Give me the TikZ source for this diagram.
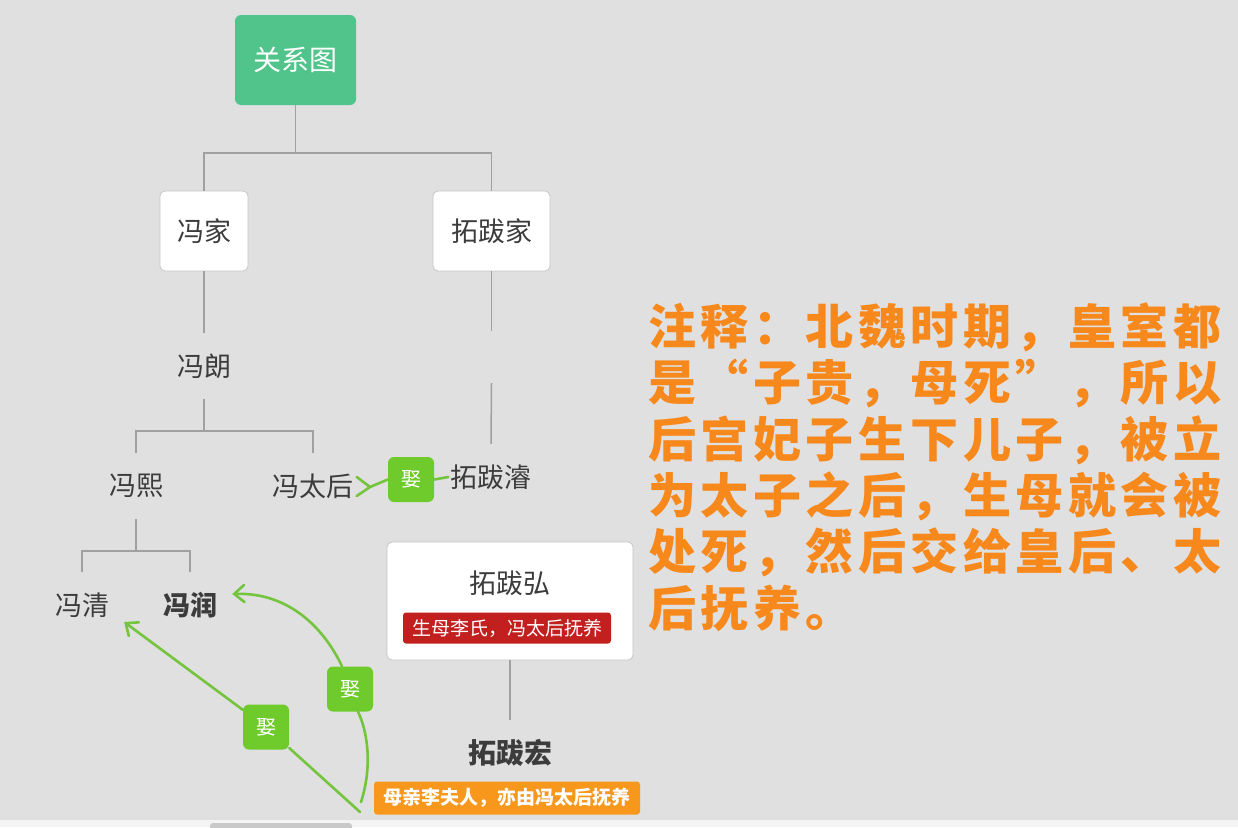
\documentclass[tikz,border=0pt]{standalone}
\usepackage{fontspec}
\setmainfont{Noto Sans CJK SC}
\usetikzlibrary{arrows.meta,calc}
\definecolor{bg}{HTML}{E0E0E0}
\definecolor{bottomstrip}{HTML}{F4F4F4}
\definecolor{scrollgray}{HTML}{C9C9C9}
\definecolor{rootgreen}{HTML}{50C48A}
\definecolor{treegray}{HTML}{A0A0A0}
\definecolor{boxborder}{HTML}{C6C6C6}
\definecolor{txt}{HTML}{3C3C3C}
\definecolor{relgreen}{HTML}{74C43E}
\definecolor{lbl}{HTML}{6FCB2B}
\definecolor{redlbl}{HTML}{C21F1F}
\definecolor{orangelbl}{HTML}{F7981D}
\definecolor{noteorange}{HTML}{F7881C}
\newlength\cellw
\setlength\cellw{52.5pt}
\newcommand\spreadtxt[1]{\spreadloop#1\relax}
\def\spreadloop#1{\ifx\relax#1\else\makebox[\cellw]{#1}\expandafter\spreadloop\fi}
\begin{document}
\begin{tikzpicture}[x=1pt,y=-1pt,
  tree/.style={draw=treegray,line width=1.5pt},
  rel/.style={draw=relgreen,line width=2.6pt,line cap=round},
  relarrow/.style={rel,-{Straight Barb[length=10pt,width=17pt,line cap=round]}},
  topicbox/.style={draw=boxborder,line width=0.8pt,fill=white,rounded corners=5pt,text=txt,font=\fontsize{27}{32}\selectfont,inner sep=0pt},
  plain/.style={text=txt,font=\fontsize{27}{32}\selectfont,minimum height=66pt,inner sep=2pt},
  marry/.style={fill=lbl,rounded corners=6pt,text=white,font=\fontsize{20}{24}\selectfont,minimum width=46pt,minimum height=45pt,inner sep=0pt},
  tag/.style={rounded corners=3pt,text=white,font=\fontsize{19}{22}\selectfont,inner sep=0pt},
  notel/.style={anchor=west,inner sep=0pt,text=noteorange,font=\fontsize{48}{56}\selectfont\bfseries}]
\useasboundingbox (0,0) rectangle (1238,827);
\fill[bg] (0,0) rectangle (1238,820);
\fill[bottomstrip] (0,820) rectangle (1238,827);
\fill[scrollgray,rounded corners=3pt] (210,823) rectangle (352,830);

% tree nodes
\node[fill=rootgreen,rounded corners=6pt,text=white,font=\fontsize{28}{32}\selectfont,minimum width=121pt,minimum height=90pt,inner sep=0pt] (root) at (295.5,60) {关系图};
\node[topicbox,minimum width=88pt,minimum height=80pt] (fengjia) at (204,231) {冯家};
\node[topicbox,minimum width=117pt,minimum height=80pt] (tuobajia) at (491.5,231) {拓跋家};
\node[plain] (langa) at (204,366) {冯朗};
\node[plain] (xi) at (136,486) {冯熙};
\node[plain] (taihou) at (313,486) {冯太后};
\node[plain] (qing) at (82,605) {冯清};
\node[plain,font=\fontsize{27}{32}\selectfont\bfseries] (run) at (190,605) {冯润};
\node[plain] (zhun) at (491,477) {拓跋濬};
\node[topicbox,minimum width=246pt,minimum height=118pt] (hongbox) at (510,601) {};
\node[text=txt,font=\fontsize{27}{32}\selectfont,inner sep=0pt] (hongtitle) at (510,583) {拓跋弘};
\node[tag,fill=redlbl,minimum width=208pt,minimum height=31pt] (redtag) at (507,628) {生母李氏，冯太后抚养};
\node[plain,font=\fontsize{28}{32}\selectfont\bfseries] (hong2) at (510,753) {拓跋宏};
\node[tag,fill=orangelbl,minimum width=266pt,minimum height=33pt,font=\fontsize{19}{22}\selectfont\bfseries] (orangetag) at (507,798) {母亲李夫人，亦由冯太后抚养};

% tree connectors
\coordinate (j1) at (295.5,153);
\draw[tree] (root.south) -- (j1) -| (fengjia.north);
\draw[tree] (j1) -| (tuobajia.north);
\draw[tree] (fengjia.south) -- (langa.north);
\coordinate (j2) at (204,431);
\draw[tree] (langa.south) -- (j2) -| (xi.north);
\draw[tree] (j2) -| (taihou.north);
\coordinate (j3) at (136,551);
\draw[tree] (xi.south) -- (j3) -| (qing.north);
\draw[tree] (j3) -| (run.north);
\coordinate (g1) at (491.5,331);
\coordinate (g2) at (491.5,383);
\draw[tree] (tuobajia.south) -- (g1);
\draw[tree] (g2) -- (zhun.north);
\draw[tree] (hongbox.south) -- (hong2.north);

% marriage labels
\node[marry] (m1) at (411,479.5) {娶};
\node[marry] (m2) at (350,689) {娶};
\node[marry] (m3) at (266,727) {娶};

% marriage connectors
\draw[rel] (zhun.west) -- (m1.east);
\coordinate (fk) at (370,487);
\draw[rel] (m1.west) -- (fk);
\draw[rel] ($(taihou.east)+(1,-9)$) -- (fk) -- ($(taihou.east)+(1,10)$);

\coordinate (hs2) at (361,802);
\coordinate (hs3) at (360,812);
\coordinate (runtip) at ($(run.east)+(13,-11)$);
\coordinate (qingtip) at ($(qing.east)+(13,17)$);
\draw[rel] (hs2) .. controls (373,765) and (367,730) .. ($(m2.south)+(8,0)$);
\draw[relarrow] ($(m2.north)+(-8,0)$) .. controls (325,630) and (290,592) .. (runtip);
\draw[rel] (hs3) -- (m3);
\draw[relarrow] (m3) -- (qingtip);

% annotation
\node[notel] (n1) at (646,327) {\spreadtxt{注释：北魏时期，皇室都}};
\node[notel] (n2) at (646,383) {\spreadtxt{是“子贵，母死”，所以}};
\node[notel] (n3) at (646,440) {\spreadtxt{后宫妃子生下儿子，被立}};
\node[notel] (n4) at (646,496) {\spreadtxt{为太子之后，生母就会被}};
\node[notel] (n5) at (646,552) {\spreadtxt{处死，然后交给皇后、太}};
\node[notel] (n6) at (646,608) {\spreadtxt{后抚养。}};
\end{tikzpicture}
\end{document}
